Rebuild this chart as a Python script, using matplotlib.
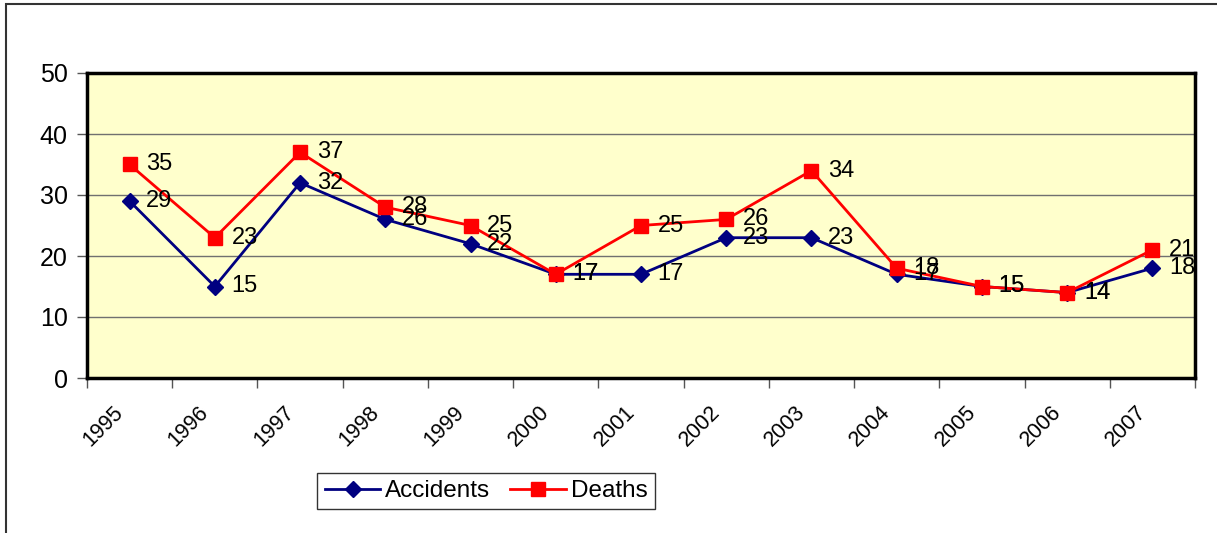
import matplotlib.pyplot as plt
import matplotlib.transforms as mtransforms
from matplotlib.patches import Rectangle
import numpy as np

plt.rcParams['font.family'] = ['Liberation Sans', 'DejaVu Sans']

years = ["1995", "1996", "1997", "1998", "1999", "2000", "2001",
         "2002", "2003", "2004", "2005", "2006", "2007"]
accidents = [29, 15, 32, 26, 22, 17, 17, 23, 23, 17, 15, 14, 18]
deaths = [35, 23, 37, 28, 25, 17, 25, 26, 34, 18, 15, 14, 21]

fig = plt.figure(figsize=(12.17, 5.33), dpi=100)
ax = fig.add_axes([87/1217, 1 - 378/533, (1195 - 87)/1217, (378 - 73)/533])
ax.set_facecolor("#FFFFCC")

# outer chart border (cut off on the right and bottom)
fig.patches.append(Rectangle((6/1217, -0.2), 1.2, 1.2 - 4/533,
                             transform=fig.transFigure, fill=False,
                             edgecolor="#333333", linewidth=1.5))

x = np.arange(len(years))
ax.plot(x, accidents, color="#000080", linewidth=2, marker="D", markersize=8.5,
        label="Accidents", zorder=3)
ax.plot(x, deaths, color="#FF0000", linewidth=2, marker="s", markersize=10,
        label="Deaths", zorder=4)

#data labels to the right of each point
for i in range(len(years)):
    ax.annotate(str(accidents[i]), (x[i], accidents[i]), xytext=(12, 0),
                textcoords="offset points", va="center", ha="left", fontsize=17, zorder=5)
    ax.annotate(str(deaths[i]), (x[i], deaths[i]), xytext=(12, 0),
                textcoords="offset points", va="center", ha="left", fontsize=17, zorder=5)

ax.set_xlim(-0.5, len(years) - 0.5)
ax.set_ylim(0, 50)
ax.set_yticks([0, 10, 20, 30, 40, 50])
ax.yaxis.grid(True, color="#707070", linewidth=1)
ax.set_axisbelow(True)

ax.set_xticks(x)
ax.set_xticklabels(years, rotation=45, ha="right", rotation_mode="anchor")
ax.set_xticks(np.arange(-0.5, len(years)), minor=True)
ax.tick_params(axis="x", which="major", length=0, labelsize=15.5, pad=17)
ax.tick_params(axis="x", which="minor", length=7, width=1, color="#555555")
ax.tick_params(axis="y", length=7, width=1, color="#555555", labelsize=18, pad=7)

shift = mtransforms.ScaledTranslation(-12/72, 0, fig.dpi_scale_trans)
for lab in ax.get_xticklabels():
    lab.set_transform(lab.get_transform() + shift)

for s in ax.spines.values():
    s.set_linewidth(2.5)
    s.set_color("black")

leg = ax.legend(loc="center", bbox_to_anchor=(486/1217, 1 - 491/533),
                bbox_transform=fig.transFigure, ncol=2, fontsize=17.5,
                frameon=True, fancybox=False, edgecolor="black",
                handlelength=2.3, columnspacing=0.8, handletextpad=0.2,
                borderpad=0.3, borderaxespad=0)
leg.get_frame().set_linewidth(1)

fig.savefig("out.png", dpi=100)
